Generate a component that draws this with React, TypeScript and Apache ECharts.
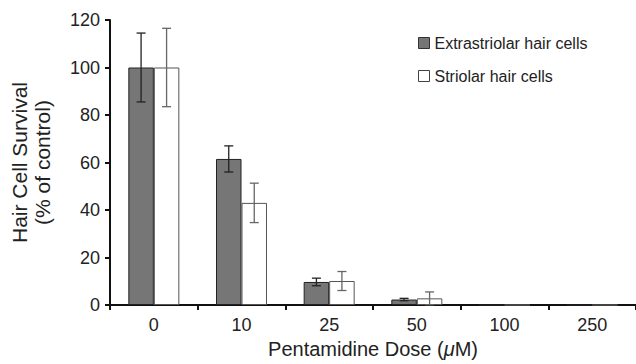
import React, { useEffect, useRef } from "react";
import * as echarts from "echarts";

const categories = ["0", "10", "25", "50", "100", "250"];
const extraValues = [100, 61.5, 9.7, 2.3, 0, 0];
const extraErrors = [14.5, 5.5, 1.6, 0.5, 0, 0];
const strioValues = [100, 43, 10.1, 2.8, 0, 0];
const strioErrors = [16.5, 8.3, 4, 2.7, 0, 0];
const yTicks = { min: 0, max: 120, interval: 20 };

const BAR_W = 25.5;

function errorSeries(values: number[], errors: number[], offset: number, color: string) {
  const data = values
    .map((v, i) => [i, v - errors[i], v + errors[i]])
    .filter((d, i) => errors[i] > 0);
  return {
    type: "custom",
    z: 5,
    silent: true,
    data,
    encode: { x: 0, y: [1, 2] },
    renderItem: (params: any, api: any) => {
      const i = api.value(0);
      const lo = api.coord([i, api.value(1)]);
      const hi = api.coord([i, api.value(2)]);
      const x = lo[0] + offset;
      const cap = 4.5;
      const style = { stroke: color, lineWidth: 1.3 };
      return {
        type: "group",
        children: [
          { type: "line", shape: { x1: x, y1: hi[1], x2: x, y2: lo[1] }, style },
          { type: "line", shape: { x1: x - cap, y1: hi[1], x2: x + cap, y2: hi[1] }, style },
          { type: "line", shape: { x1: x - cap, y1: lo[1], x2: x + cap, y2: lo[1] }, style },
        ],
      };
    },
  };
}

export default function App() {
  const ref = useRef<HTMLDivElement>(null);
  useEffect(() => {
    const chart = echarts.init(ref.current!, undefined, { renderer: "svg" });
    const font = "'Liberation Sans', Arial, sans-serif";
    chart.setOption({
      animation: false,
      textStyle: { fontFamily: font, color: "#222" },
      grid: { left: 108, right: 0, top: 20, bottom: 59, containLabel: false },
      legend: {
        orient: "vertical",
        left: 413,
        top: 30,
        itemWidth: 11,
        itemHeight: 11,
        itemGap: 17,
        icon: "rect",
        textStyle: { fontSize: 16, color: "#222", fontFamily: font },
        data: [
          { name: "Extrastriolar hair cells", itemStyle: { color: "#767676", borderColor: "#333", borderWidth: 1 } },
          { name: "Striolar hair cells", itemStyle: { color: "#fff", borderColor: "#444", borderWidth: 1 } },
        ],
      },
      xAxis: {
        type: "category",
        data: categories,
        boundaryGap: true,
        axisLine: { lineStyle: { color: "#111", width: 2 } },
        axisTick: { show: true, length: 5, inside: false, lineStyle: { color: "#111", width: 2 } },
        axisLabel: { fontSize: 18, color: "#222", margin: 11, fontFamily: font },
        name: "Pentamidine Dose ({i|μ}M)",
        nameLocation: "middle",
        nameGap: 34,
        nameTextStyle: {
          fontSize: 20,
          color: "#222",
          fontFamily: font,
          rich: { i: { fontSize: 20, fontStyle: "italic", color: "#222", fontFamily: font } },
        },
      },
      yAxis: {
        type: "value",
        min: yTicks.min,
        max: yTicks.max,
        interval: yTicks.interval,
        splitLine: { show: false },
        axisLine: { show: true, lineStyle: { color: "#111", width: 2 } },
        axisTick: { show: true, length: 5, lineStyle: { color: "#111", width: 2 } },
        axisLabel: { fontSize: 18, color: "#222", margin: 10, fontFamily: font },
        name: "Hair Cell Survival\n(% of control)",
        nameLocation: "middle",
        nameRotate: 90,
        nameGap: 56,
        nameTextStyle: { fontSize: 21, color: "#222", lineHeight: 23, fontFamily: font },
      },
      series: [
        {
          name: "Extrastriolar hair cells",
          type: "bar",
          data: extraValues,
          barWidth: BAR_W,
          barGap: "0%",
          itemStyle: { color: "#767676", borderColor: "#222", borderWidth: 1 },
        },
        {
          name: "Striolar hair cells",
          type: "bar",
          data: strioValues,
          barWidth: BAR_W,
          barGap: "0%",
          itemStyle: { color: "#ffffff", borderColor: "#555", borderWidth: 1 },
        },
        errorSeries(extraValues, extraErrors, -BAR_W / 2, "#222"),
        errorSeries(strioValues, strioErrors, BAR_W / 2, "#666"),
      ],
    });
    return () => chart.dispose();
  }, []);
  return (
    <div
      ref={ref}
      style={{ position: "absolute", left: 0, top: 0, width: 636, height: 364, background: "#fff" }}
    />
  );
}
